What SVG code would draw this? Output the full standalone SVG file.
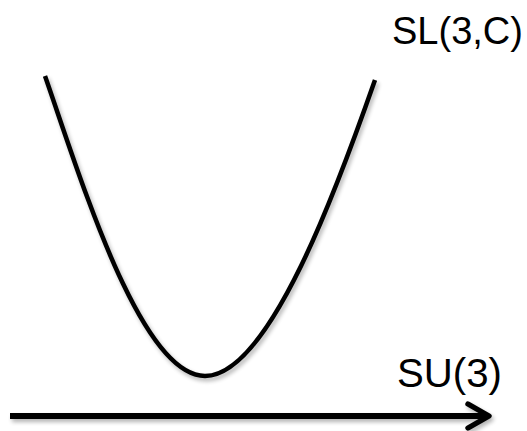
<svg xmlns="http://www.w3.org/2000/svg" width="527" height="431" viewBox="0 0 527 431">
<defs>
<style>
.lbl{font-family:"Liberation Sans",Arial,sans-serif;font-size:40px;fill:#000}
.ln{fill:none;stroke:#000;stroke-linecap:butt}
</style>
<filter id="sh" filterUnits="userSpaceOnUse" x="0" y="0" width="527" height="431">
<feGaussianBlur in="SourceAlpha" stdDeviation="2"/>
<feOffset dx="2" dy="3" result="b"/>
<feComponentTransfer><feFuncA type="linear" slope="0.3"/></feComponentTransfer>
<feMerge><feMergeNode/><feMergeNode in="SourceGraphic"/></feMerge>
</filter>
<marker id="ah" viewBox="0 0 10 10" refX="8" refY="5" markerWidth="5" markerHeight="5" orient="auto" markerUnits="strokeWidth">
<path d="M1,1 L8,5 L1,9" fill="none" stroke="#000" stroke-width="1.8" stroke-linecap="round" stroke-linejoin="round"/>
</marker>
</defs>
<rect width="527" height="431" fill="#fff"/>
<g id="curve" filter="url(#sh)">
<path class="ln" stroke-width="4.5" d="M45,76 C80,176 140,376 205,376 C270,376 340,180 375,80"/>
</g>
<g id="connectors" filter="url(#sh)">
<path class="ln" d="M10,416 L489,416" stroke-width="6" marker-end="url(#ah)"/>
</g>
<g id="label-slc">
<text class="lbl" x="392" y="44" style="font-size:38px">SL(3,C)</text>
</g>
<g id="label-su">
<text class="lbl" x="397" y="387" textLength="105" lengthAdjust="spacingAndGlyphs">SU(3)</text>
</g>
</svg>
